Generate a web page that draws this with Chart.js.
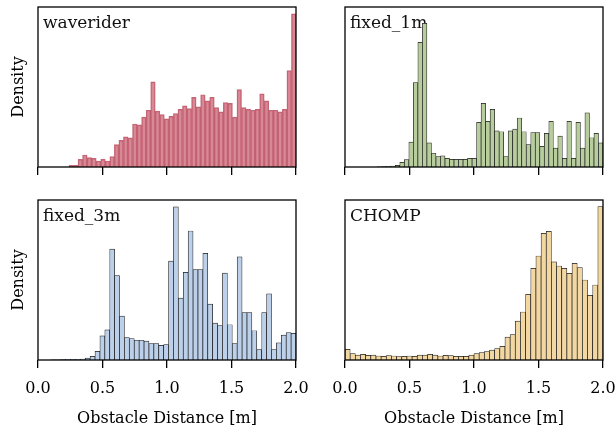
<!DOCTYPE html>
<html>
<head>
<meta charset="utf-8">
<script src="https://cdn.jsdelivr.net/npm/chart.js@4/dist/chart.umd.min.js"></script>
<style>
  body { margin: 0; background: #fff; }
  #wrap { position: relative; width: 616px; height: 430px; overflow: hidden; }
  canvas { position: absolute; }
</style>
</head>
<body>
<div id="wrap">
  <canvas id="c0"></canvas>
  <canvas id="c1"></canvas>
  <canvas id="c2"></canvas>
  <canvas id="c3"></canvas>
</div>
<script>
// histogram densities (50 bins per panel)
const waverider = [0.02, 0.02, 0.09, 0.14, 0.11, 0.10, 0.07, 0.09, 0.07, 0.12,
  0.26, 0.31, 0.35, 0.34, 0.50, 0.49, 0.58, 0.66, 0.99, 0.65,
  0.61, 0.56, 0.59, 0.62, 0.67, 0.71, 0.68, 0.81, 0.70, 0.84,
  0.77, 0.81, 0.69, 0.64, 0.75, 0.74, 0.58, 0.90, 0.69, 0.67,
  0.66, 0.67, 0.85, 0.77, 0.66, 0.66, 0.64, 0.67, 1.12, 1.78];
const fixed1m = [0.002, 0.004, 0.008, 0.012, 0.019, 0.054, 0.085, 0.29, 0.98, 1.45,
  1.67, 0.28, 0.16, 0.12, 0.13, 0.10, 0.09, 0.09, 0.09, 0.09,
  0.10, 0.10, 0.52, 0.74, 0.53, 0.67, 0.42, 0.41, 0.12, 0.42,
  0.44, 0.57, 0.41, 0.26, 0.40, 0.40, 0.24, 0.39, 0.53, 0.22,
  0.36, 0.10, 0.53, 0.10, 0.52, 0.22, 0.63, 0.34, 0.39, 0.28];
const fixed3m = [0.002, 0.002, 0.004, 0.008, 0.004, 0.008, 0.012, 0.023, 0.043, 0.10,
  0.28, 0.35, 1.29, 0.98, 0.51, 0.26, 0.25, 0.23, 0.23, 0.22,
  0.19, 0.19, 0.17, 0.18, 1.15, 1.78, 0.72, 1.02, 1.50, 1.05,
  1.05, 1.24, 0.65, 0.43, 0.40, 1.01, 0.41, 0.19, 1.20, 0.55,
  0.55, 0.34, 0.12, 0.55, 0.77, 0.12, 0.20, 0.29, 0.32, 0.31];
const chomp = [0.124, 0.074, 0.058, 0.066, 0.054, 0.058, 0.047, 0.043, 0.050, 0.047,
  0.039, 0.043, 0.047, 0.043, 0.058, 0.058, 0.066, 0.058, 0.047, 0.054,
  0.050, 0.043, 0.043, 0.043, 0.058, 0.074, 0.085, 0.097, 0.116, 0.132,
  0.159, 0.267, 0.295, 0.453, 0.558, 0.764, 1.066, 1.209, 1.473, 1.496,
  1.140, 1.093, 1.066, 1.008, 1.124, 1.074, 0.930, 0.752, 0.872, 1.783];

// data range [min, max] of each panel's bins
const waveriderRange = [0.24, 2.0];
const fixed1mRange = [0.25, 2.0];
const fixed3mRange = [0.10, 2.0];
const chompRange = [0.0, 2.0];

const xTicks = [0.0, 0.5, 1.0, 1.5, 2.0];
const yMax = 1.86;

Chart.defaults.font.family = '"DejaVu Serif", serif';
Chart.defaults.font.size = 15;
Chart.defaults.color = '#000';

function binCenters(values, range) {
  const w = (range[1] - range[0]) / values.length;
  return values.map((v, i) => ({ x: range[0] + (i + 0.5) * w, y: v }));
}

// frame around the axes + panel name in the top left corner
function panelPlugin(name) {
  return {
    id: 'panel',
    beforeDatasetsDraw(chart) {
      const { ctx, chartArea: a } = chart;
      ctx.save();
      ctx.font = '17px "DejaVu Serif", serif';
      ctx.fillStyle = '#111';
      ctx.textBaseline = 'alphabetic';
      ctx.fillText(name, a.left + 5, a.top + 21);
      ctx.restore();
    },
    afterDatasetsDraw(chart) {
      const { ctx, chartArea: a } = chart;
      ctx.save();
      ctx.strokeStyle = '#000';
      ctx.lineWidth = 1.3;
      ctx.strokeRect(a.left, a.top, a.right - a.left, a.bottom - a.top);
      ctx.restore();
    }
  };
}

function makePanel(id, name, values, range, fill, edge, edgeWidth, isLeft, isBottom, box) {
  const canvas = document.getElementById(id);
  canvas.width = box.w;
  canvas.height = box.h;
  canvas.style.left = box.left + 'px';
  canvas.style.top = box.top + 'px';

  return new Chart(canvas, {
    type: 'bar',
    data: {
      datasets: [{
        data: binCenters(values, range),
        backgroundColor: fill,
        borderColor: edge,
        borderWidth: edgeWidth,
        barPercentage: 1,
        categoryPercentage: 1
      }]
    },
    options: {
      responsive: false,
      animation: false,
      events: [],
      layout: { padding: box.pad },
      plugins: { legend: { display: false }, tooltip: { enabled: false } },
      scales: {
        x: {
          type: 'linear',
          min: 0,
          max: 2,
          offset: false,
          afterBuildTicks: (s) => { s.ticks = xTicks.map(v => ({ value: v })); },
          afterFit: (s) => {
            s.height = box.xh;
            s.paddingLeft = 0;   // let the end labels overhang like matplotlib does
            s.paddingRight = 0;
          },
          grid: { display: true, drawOnChartArea: false, drawTicks: true, tickLength: 8, color: '#000', lineWidth: 1.3, offset: false },
          border: { display: false },
          ticks: { display: isBottom, maxRotation: 0, padding: 11, font: { size: 16 }, callback: (v) => Number(v).toFixed(1) },
          title: { display: isBottom, text: 'Obstacle Distance [m]', font: { size: 16 }, padding: { top: 0, bottom: 2 } }
        },
        y: {
          display: isLeft,
          min: 0,
          max: yMax,
          afterFit: (s) => { if (isLeft) s.width = 38; },
          grid: { display: false },
          border: { display: false },
          ticks: { display: false },
          title: { display: isLeft, text: 'Density', font: { size: 16 }, padding: { top: 9, bottom: 0 } }
        }
      }
    },
    plugins: [panelPlugin(name)]
  });
}

const topBox = { h: 190, xh: 23 };
const botBox = { h: 240, xh: 70 };

makePanel('c0', 'waverider', waverider, waveriderRange, 'rgba(200, 92, 110, 0.72)', 'rgba(185, 80, 98, 0.85)', 0.8, true, false,
  { ...topBox, left: 0, top: 0, w: 312, pad: { left: 0, top: 7, right: 16, bottom: 0 } });
makePanel('c1', 'fixed_1m', fixed1m, fixed1mRange, '#b8cd9d', '#1a1a1a', 0.7, false, false,
  { ...topBox, left: 304, top: 0, w: 312, pad: { left: 41, top: 7, right: 13, bottom: 0 } });
makePanel('c2', 'fixed_3m', fixed3m, fixed3mRange, '#bcd0ea', '#1a1a1a', 0.7, true, true,
  { ...botBox, left: 0, top: 190, w: 312, pad: { left: 0, top: 10, right: 16, bottom: 0 } });
makePanel('c3', 'CHOMP', chomp, chompRange, '#f2d7a2', '#1a1a1a', 0.7, false, true,
  { ...botBox, left: 304, top: 190, w: 312, pad: { left: 41, top: 10, right: 13, bottom: 0 } });
</script>
</body>
</html>
